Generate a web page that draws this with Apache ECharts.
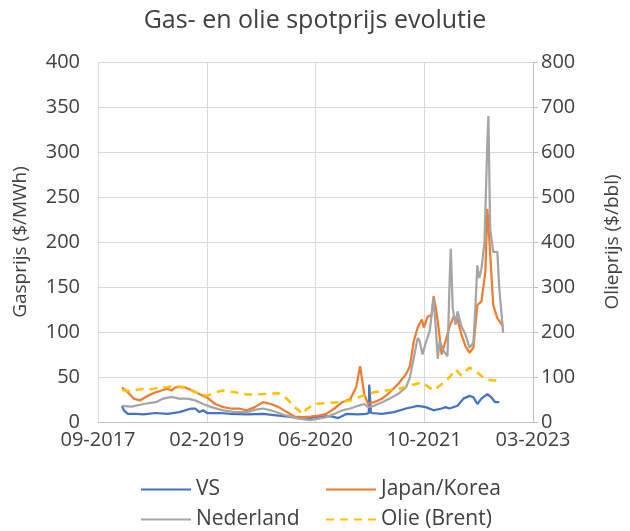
<!DOCTYPE html>
<html>
<head>
<meta charset="utf-8">
<script src="https://cdn.jsdelivr.net/npm/echarts@6/dist/echarts.min.js"></script>
<style>
  html, body { margin: 0; padding: 0; background: #fff; }
  #chart { width: 630px; height: 531px; }
</style>
</head>
<body>
<div id="chart"></div>
<script>
// VS (Henry Hub), $/MWh
const vsDates = ['2018-01-08','2018-01-17','2018-02-04','2018-03-13','2018-04-18','2018-06-12','2018-08-06','2018-09-29','2018-11-23','2018-12-11','2018-12-30','2019-01-17','2019-02-04','2019-03-31','2019-05-25','2019-08-06','2019-10-18','2019-12-30','2020-03-12','2020-05-06','2020-06-30','2020-08-23','2020-09-29','2020-11-05','2020-12-29','2021-02-04','2021-02-16','2021-02-18','2021-02-26','2021-04-18','2021-06-12','2021-08-06','2021-09-29','2021-11-05','2021-12-11','2022-01-17','2022-02-04','2022-02-22','2022-03-31','2022-04-27','2022-05-25','2022-06-12','2022-06-30','2022-07-19','2022-08-15','2022-09-02','2022-09-20','2022-10-09'];
const vsValues = [18,13,9,9,8.5,10,9,11,15,15,11,13,10,10,9,8.5,9,7,5,3.7,6,6.6,4.4,9,8.5,9,10,41.5,10,9,11,15,18,16.5,13,15,16.5,15,18,26,29,27.5,20,26,31,27.5,22,22];

// Japan/Korea (JKM), $/MWh
const jkDates = ['2018-01-08','2018-02-04','2018-03-03','2018-03-31','2018-05-06','2018-06-12','2018-07-09','2018-08-06','2018-08-24','2018-09-11','2018-10-18','2018-11-23','2018-12-30','2019-02-04','2019-03-13','2019-04-18','2019-05-25','2019-06-30','2019-08-06','2019-09-11','2019-10-18','2019-11-24','2019-12-30','2020-02-05','2020-03-12','2020-04-18','2020-05-24','2020-06-30','2020-08-05','2020-09-11','2020-10-17','2020-11-23','2020-12-20','2021-01-07','2021-01-26','2021-02-13','2021-03-12','2021-04-18','2021-05-24','2021-06-30','2021-08-06','2021-08-24','2021-09-11','2021-09-29','2021-10-18','2021-10-27','2021-11-14','2021-12-02','2021-12-11','2021-12-21','2021-12-30','2022-01-17','2022-02-04','2022-02-22','2022-03-13','2022-03-31','2022-04-18','2022-05-07','2022-05-25','2022-06-12','2022-06-30','2022-07-19','2022-08-06','2022-08-15','2022-08-24','2022-09-11','2022-09-30','2022-10-27'];
const jkValues = [38.5,33,26,24,29,33,35,37,35,38.5,39,35.5,31,27,20,16.5,15,15,13,16.5,22,20,16.5,11,6,5.5,6,7,9,15,22,25.5,38.5,62,31,20,22,26,33,42,53,62,90,105,114,105,117,119,140,127,112,75,90,106,117,114,97,84,77,82.5,130,134,167,237,204,130,115.5,106];

// Nederland (TTF), $/MWh
const nlDates = ['2018-01-08','2018-02-22','2018-04-18','2018-06-12','2018-07-18','2018-08-24','2018-09-29','2018-11-05','2018-12-11','2019-01-17','2019-02-23','2019-04-18','2019-06-12','2019-08-06','2019-09-11','2019-10-18','2019-11-24','2019-12-30','2020-02-05','2020-03-30','2020-05-24','2020-06-30','2020-08-05','2020-09-11','2020-10-17','2020-11-23','2020-12-29','2021-01-26','2021-02-13','2021-03-12','2021-04-18','2021-05-24','2021-06-30','2021-08-06','2021-08-24','2021-09-11','2021-09-29','2021-10-08','2021-10-21','2021-11-05','2021-11-23','2021-12-11','2021-12-21','2021-12-30','2022-01-08','2022-01-26','2022-02-13','2022-02-22','2022-02-28','2022-03-09','2022-03-22','2022-03-31','2022-04-18','2022-05-07','2022-05-25','2022-06-12','2022-06-21','2022-06-30','2022-07-09','2022-07-19','2022-08-02','2022-08-15','2022-08-20','2022-08-28','2022-09-11','2022-09-30','2022-10-09','2022-10-27'];
const nlValues = [18,17,20,22,26,28,26,26,24,20,16.5,13,11,11,13.5,15,13,10,7,3.7,2,3.7,5.5,9,13,15,18,20,16.5,18,22,26,31,38.5,49.5,71.5,93.5,90,75,88,101,137.5,105,70,90,79,73,152,192.5,126.5,108,123,106,97,82.5,88,126.5,174,160,170,200,310,340,214.5,189,189,148.5,99];

// Olie (Brent), $/bbl
const oilDates = ['2018-01-08','2018-02-22','2018-03-31','2018-05-25','2018-06-30','2018-08-06','2018-09-11','2018-10-18','2018-11-23','2018-12-30','2019-02-04','2019-03-13','2019-04-18','2019-06-12','2019-08-06','2019-10-18','2019-12-30','2020-02-05','2020-03-12','2020-04-20','2020-05-06','2020-06-11','2020-08-05','2020-09-29','2020-11-23','2021-01-17','2021-03-12','2021-05-06','2021-06-30','2021-08-24','2021-10-18','2021-12-11','2022-01-17','2022-02-22','2022-03-22','2022-04-18','2022-05-25','2022-06-30','2022-08-06','2022-09-11','2022-10-18'];
const oilValues = [71,68,73,73,77,78,80,77,70,62,58,66,70,66,61,62,64,52,33,18,29,40,42,44,48,58,66,70,73,81,88,70,84,99,117,103,121,110,95,92,92];

const baseDay = Date.UTC(2017, 8, 20);
const toDay = s => (Date.parse(s) - baseDay) / 86400000;
const pairs = (dates, vals) => dates.map((d, i) => [toDay(d), vals[i]]);

const font = '"Open Sans", sans-serif';
const textColor = '#404040';
const gridColor = '#d9d9d9';

// one legend block per entry so the 2x2 columns line up like the original
const legendAt = (name, left, top) => ({
  data: [name], left: left, top: top, padding: 0,
  itemWidth: 50, itemHeight: 14,
  itemStyle: { opacity: 0 },
  textStyle: { fontFamily: font, fontSize: 21, color: textColor }
});

const chart = echarts.init(document.getElementById('chart'));
chart.setOption({
  animation: false,
  textStyle: { fontFamily: font },
  title: {
    text: 'Gas- en olie spotprijs evolutie',
    left: 'center',
    top: 3,
    textStyle: { fontFamily: font, fontSize: 25, fontWeight: 'normal', color: textColor }
  },
  grid: { left: 98, right: 93, top: 62, bottom: 109 },
  legend: [
    legendAt('VS', 140, 479),
    legendAt('Japan/Korea', 325, 479),
    legendAt('Nederland', 140, 509),
    legendAt('Olie (Brent)', 325, 509)
  ],
  xAxis: {
    type: 'value',
    min: 0, max: 2000, interval: 500,
    axisLine: { show: true, lineStyle: { color: '#bfbfbf' } },
    axisTick: { show: false },
    splitLine: { show: true, lineStyle: { color: gridColor } },
    axisLabel: {
      fontSize: 20, color: textColor, margin: 8, fontFamily: font,
      showMinLabel: true, showMaxLabel: true,
      formatter: v => {
        const d = new Date(baseDay + v * 86400000);
        return String(d.getUTCMonth() + 1).padStart(2, '0') + '-' + d.getUTCFullYear();
      }
    }
  },
  yAxis: [
    {
      type: 'value', min: 0, max: 400, interval: 50,
      name: 'Gasprijs ($/MWh)', nameLocation: 'middle', nameGap: 68, nameRotate: 90,
      nameTextStyle: { fontSize: 19, color: textColor, fontFamily: font },
      axisLine: { show: false }, axisTick: { show: false },
      splitLine: { lineStyle: { color: gridColor } },
      axisLabel: { fontSize: 20, color: textColor, margin: 18, fontFamily: font }
    },
    {
      type: 'value', min: 0, max: 800, interval: 100, position: 'right',
      name: 'Olieprijs ($/bbl)', nameLocation: 'middle', nameGap: 70, nameRotate: 90,
      nameTextStyle: { fontSize: 19, color: textColor, fontFamily: font },
      axisLine: { show: true, lineStyle: { color: '#bfbfbf' } },
      axisTick: { show: true, length: 5, lineStyle: { color: '#bfbfbf' } },
      splitLine: { show: false },
      axisLabel: { fontSize: 20, color: textColor, margin: 8, fontFamily: font }
    }
  ],
  series: [
    { name: 'VS', type: 'line', data: pairs(vsDates, vsValues), showSymbol: false, symbol: 'none',
      lineStyle: { color: '#4472C4', width: 2.25 }, itemStyle: { color: '#4472C4' } },
    { name: 'Japan/Korea', type: 'line', data: pairs(jkDates, jkValues), showSymbol: false, symbol: 'none',
      lineStyle: { color: '#ED7D31', width: 2.25 }, itemStyle: { color: '#ED7D31' } },
    { name: 'Nederland', type: 'line', data: pairs(nlDates, nlValues), showSymbol: false, symbol: 'none',
      lineStyle: { color: '#A5A5A5', width: 2.25 }, itemStyle: { color: '#A5A5A5' } },
    { name: 'Olie (Brent)', type: 'line', yAxisIndex: 1, data: pairs(oilDates, oilValues), showSymbol: false, symbol: 'none',
      lineStyle: { color: '#FFC000', width: 2.5, type: [8, 6] }, itemStyle: { color: '#FFC000' } }
  ]
});
</script>
</body>
</html>
